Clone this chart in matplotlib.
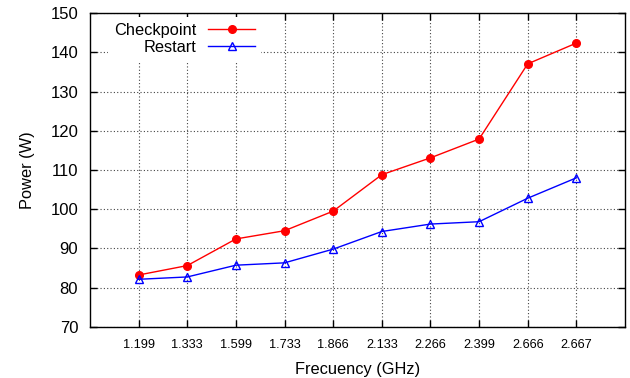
import matplotlib
matplotlib.use("Agg")
import matplotlib.pyplot as plt

# CPU frequency steps (GHz) and measured power draw (W)
freqs = ["1.199", "1.333", "1.599", "1.733", "1.866",
         "2.133", "2.266", "2.399", "2.666", "2.667"]
checkpoint = [83.2, 85.6, 92.4, 94.5, 99.5, 108.8, 113.1, 117.9, 137.1, 142.4]
restart = [82.1, 82.7, 85.7, 86.3, 89.8, 94.3, 96.2, 96.8, 102.8, 108.0]

plt.rcParams["font.family"] = ["Liberation Sans", "DejaVu Sans"]

fig = plt.figure(figsize=(6.3, 3.78), dpi=100)
ax = fig.add_axes([90 / 630, 1 - 326.7 / 378, 535 / 630, 313.4 / 378])

x = list(range(len(freqs)))
ax.plot(x, checkpoint, color="#ff0000", lw=1.0, marker="o", ms=5.5,
        label="Checkpoint", zorder=3)
ax.plot(x, restart, color="#0000ff", lw=1.0, marker="^", ms=5.5,
        mfc="none", mew=1.0, label="Restart", zorder=3)

ax.set_xlim(-1, 10)
ax.set_ylim(70, 150)
ax.set_xticks(x)
ax.set_xticklabels(freqs)
ax.set_yticks(range(70, 151, 10))

ax.grid(True, color="#444444", linestyle=(0, (1, 2)), lw=0.8)
ax.set_axisbelow(True)

ax.tick_params(axis="both", direction="in", length=5, width=1,
               top=True, right=True, pad=8.5)
ax.tick_params(axis="x", labelsize=9.2)
ax.tick_params(axis="y", labelsize=12)
for s in ax.spines.values():
    s.set_linewidth(1.0)

ax.set_xlabel("Frecuency (GHz)", fontsize=11.8, labelpad=8)
ax.set_ylabel("Power (W)", fontsize=11.8, labelpad=11)

leg = ax.legend(loc="upper right", bbox_to_anchor=(0.32, 0.987),
                markerfirst=False, fontsize=11.8, handlelength=2.9,
                handletextpad=0.7, labelspacing=0.12, borderpad=0.35,
                borderaxespad=0, frameon=True, fancybox=False,
                framealpha=1.0, edgecolor="none", facecolor="white")

fig.savefig("out.png", dpi=100)
